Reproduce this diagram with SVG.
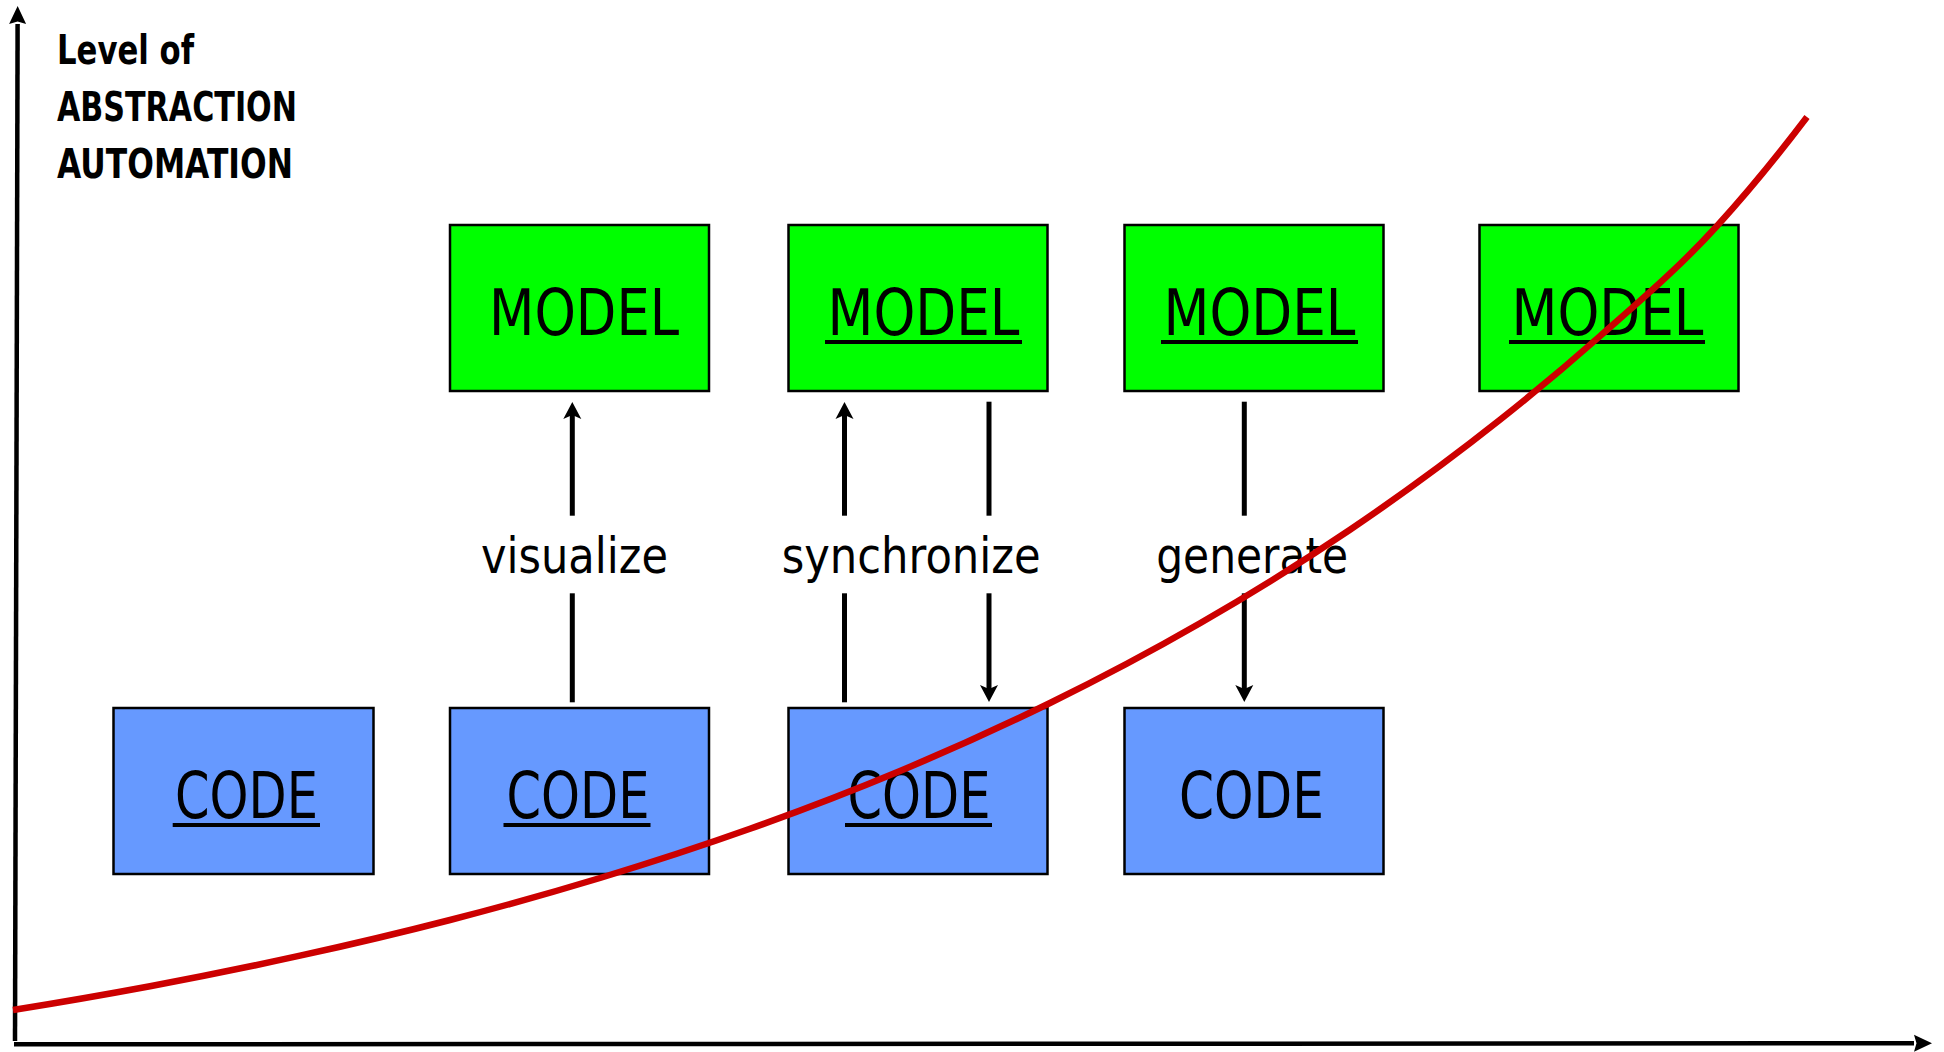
<svg xmlns="http://www.w3.org/2000/svg" width="1944" height="1052" viewBox="0 0 1944 1052">
  <style>
    .model { fill: #00ff00; stroke: #000; stroke-width: 2.5; }
    .code { fill: #6699ff; stroke: #000; stroke-width: 2.5; }
    .big { font-family: "DejaVu Sans", "Liberation Sans", sans-serif; font-size: 64.5px; fill: #000; text-anchor: middle; }
    .lbl { font-family: "DejaVu Sans", "Liberation Sans", sans-serif; font-size: 49px; fill: #000; text-anchor: middle; }
    .title { font-family: "DejaVu Sans", "Liberation Sans", sans-serif; font-weight: bold; font-size: 40px; fill: #000; }
    .ul { stroke: #000; stroke-width: 4; }
    .conn { stroke: #000; stroke-width: 5; fill: none; }
    .axis { stroke: #000; stroke-width: 4.5; fill: none; }
    .trend { stroke: #cc0000; stroke-width: 6.5; fill: none; }
  </style>
  <defs>
    <marker id="head" markerUnits="userSpaceOnUse" refX="0" refY="0" markerWidth="40" markerHeight="40" orient="auto" overflow="visible">
      <path d="M13,0 L-4,-9 L0,0 L-4,9 Z" fill="#000"/>
    </marker>
    <marker id="axisHead" markerUnits="userSpaceOnUse" refX="0" refY="0" markerWidth="40" markerHeight="40" orient="auto" overflow="visible">
      <path d="M18,0 L0,-8.5 L2.5,0 L0,8.5 Z" fill="#000"/>
    </marker>
  </defs>

  <rect width="1944" height="1052" fill="#fff"/>

  <!-- axes -->
  <g id="axes">
    <line class="axis" x1="15" y1="1041" x2="17.6" y2="24" marker-end="url(#axisHead)"/>
    <line class="axis" x1="14" y1="1044.3" x2="1914" y2="1043.3" marker-end="url(#axisHead)"/>
  </g>

  <g id="axis-title">
    <text class="title" x="57" y="64.3" textLength="137" lengthAdjust="spacingAndGlyphs">Level of</text>
    <text class="title" x="57" y="121" textLength="240" lengthAdjust="spacingAndGlyphs">ABSTRACTION</text>
    <text class="title" x="57" y="178.3" textLength="236" lengthAdjust="spacingAndGlyphs">AUTOMATION</text>
  </g>

  <!-- model row -->
  <g id="model1">
    <rect class="model" x="450" y="225" width="259" height="166"/>
    <text class="big" x="584" y="335" textLength="190" lengthAdjust="spacingAndGlyphs">MODEL</text>
  </g>
  <g id="model2">
    <rect class="model" x="788.5" y="225" width="259" height="166"/>
    <text class="big" x="923.5" y="335" textLength="192" lengthAdjust="spacingAndGlyphs">MODEL</text>
    <line class="ul" x1="825" y1="342" x2="1022" y2="342"/>
  </g>
  <g id="model3">
    <rect class="model" x="1124.5" y="225" width="259" height="166"/>
    <text class="big" x="1259.5" y="335" textLength="192" lengthAdjust="spacingAndGlyphs">MODEL</text>
    <line class="ul" x1="1161" y1="342" x2="1358" y2="342"/>
  </g>
  <g id="model4">
    <rect class="model" x="1479.5" y="225" width="259" height="166"/>
    <text class="big" x="1607.5" y="335" textLength="192" lengthAdjust="spacingAndGlyphs">MODEL</text>
    <line class="ul" x1="1509" y1="342" x2="1705" y2="342"/>
  </g>

  <!-- code row -->
  <g id="code1">
    <rect class="code" x="113.5" y="708" width="260" height="166"/>
    <text class="big" x="246.5" y="818.3" textLength="143" lengthAdjust="spacingAndGlyphs">CODE</text>
    <line class="ul" x1="172.7" y1="825" x2="320" y2="825"/>
  </g>
  <g id="code2">
    <rect class="code" x="450" y="708" width="259" height="166"/>
    <text class="big" x="578" y="818.3" textLength="143" lengthAdjust="spacingAndGlyphs">CODE</text>
    <line class="ul" x1="503.5" y1="825" x2="650.5" y2="825"/>
  </g>
  <g id="code3">
    <rect class="code" x="788.5" y="708" width="259" height="166"/>
    <text class="big" x="919" y="818.3" textLength="143" lengthAdjust="spacingAndGlyphs">CODE</text>
    <line class="ul" x1="845" y1="825" x2="992" y2="825"/>
  </g>
  <g id="code4">
    <rect class="code" x="1124.5" y="708" width="259" height="166"/>
    <text class="big" x="1251.5" y="818.3" textLength="145" lengthAdjust="spacingAndGlyphs">CODE</text>
  </g>

  <!-- connectors between code and model -->
  <g id="connectors">
    <!-- visualize: code up to model -->
    <line class="conn" x1="572.3" y1="702.3" x2="572.3" y2="593.3"/>
    <line class="conn" x1="572.3" y1="515.7" x2="572.3" y2="415" marker-end="url(#head)"/>
    <!-- synchronize: both directions -->
    <line class="conn" x1="844.5" y1="702.3" x2="844.5" y2="593.3"/>
    <line class="conn" x1="844.5" y1="515.7" x2="844.5" y2="415" marker-end="url(#head)"/>
    <line class="conn" x1="989" y1="401.7" x2="989" y2="515.7"/>
    <line class="conn" x1="989" y1="593.3" x2="989" y2="689" marker-end="url(#head)"/>
    <!-- generate: model down to code -->
    <line class="conn" x1="1244.3" y1="401.7" x2="1244.3" y2="515.7"/>
    <line class="conn" x1="1244.3" y1="593.3" x2="1244.3" y2="689" marker-end="url(#head)"/>
  </g>

  <g id="connector-labels">
    <text class="lbl" x="574.5" y="573.3" textLength="187" lengthAdjust="spacingAndGlyphs">visualize</text>
    <text class="lbl" x="911.2" y="573.3" textLength="259" lengthAdjust="spacingAndGlyphs">synchronize</text>
    <text class="lbl" x="1252.2" y="573.3" textLength="192" lengthAdjust="spacingAndGlyphs">generate</text>
  </g>

  <!-- rising trend curve (exponential-like growth) -->
  <g id="trend">
    <path class="trend" d="M13,1010 C58.67,1002.62 104.33,994.74 150,986.2 C200,976.85 250,966.69 300,955.7 C350,944.71 400,932.9 450,920 C500,907.1 550,893.14 600,878 C650,862.86 700,846.58 750,828.8 C800,811.02 850,791.87 900,771 C950,750.13 1000,727.51 1050,703 C1100,678.49 1150,652.07 1200,623.3 C1250,594.53 1300,563.48 1350,529.7 C1400,495.92 1450,459.46 1500,419.8 C1533.33,393.36 1566.67,365.52 1600,336.1 C1639,301.68 1678,268.9 1717,226 C1747,193 1777,156.6 1807,117"/>
  </g>
</svg>
